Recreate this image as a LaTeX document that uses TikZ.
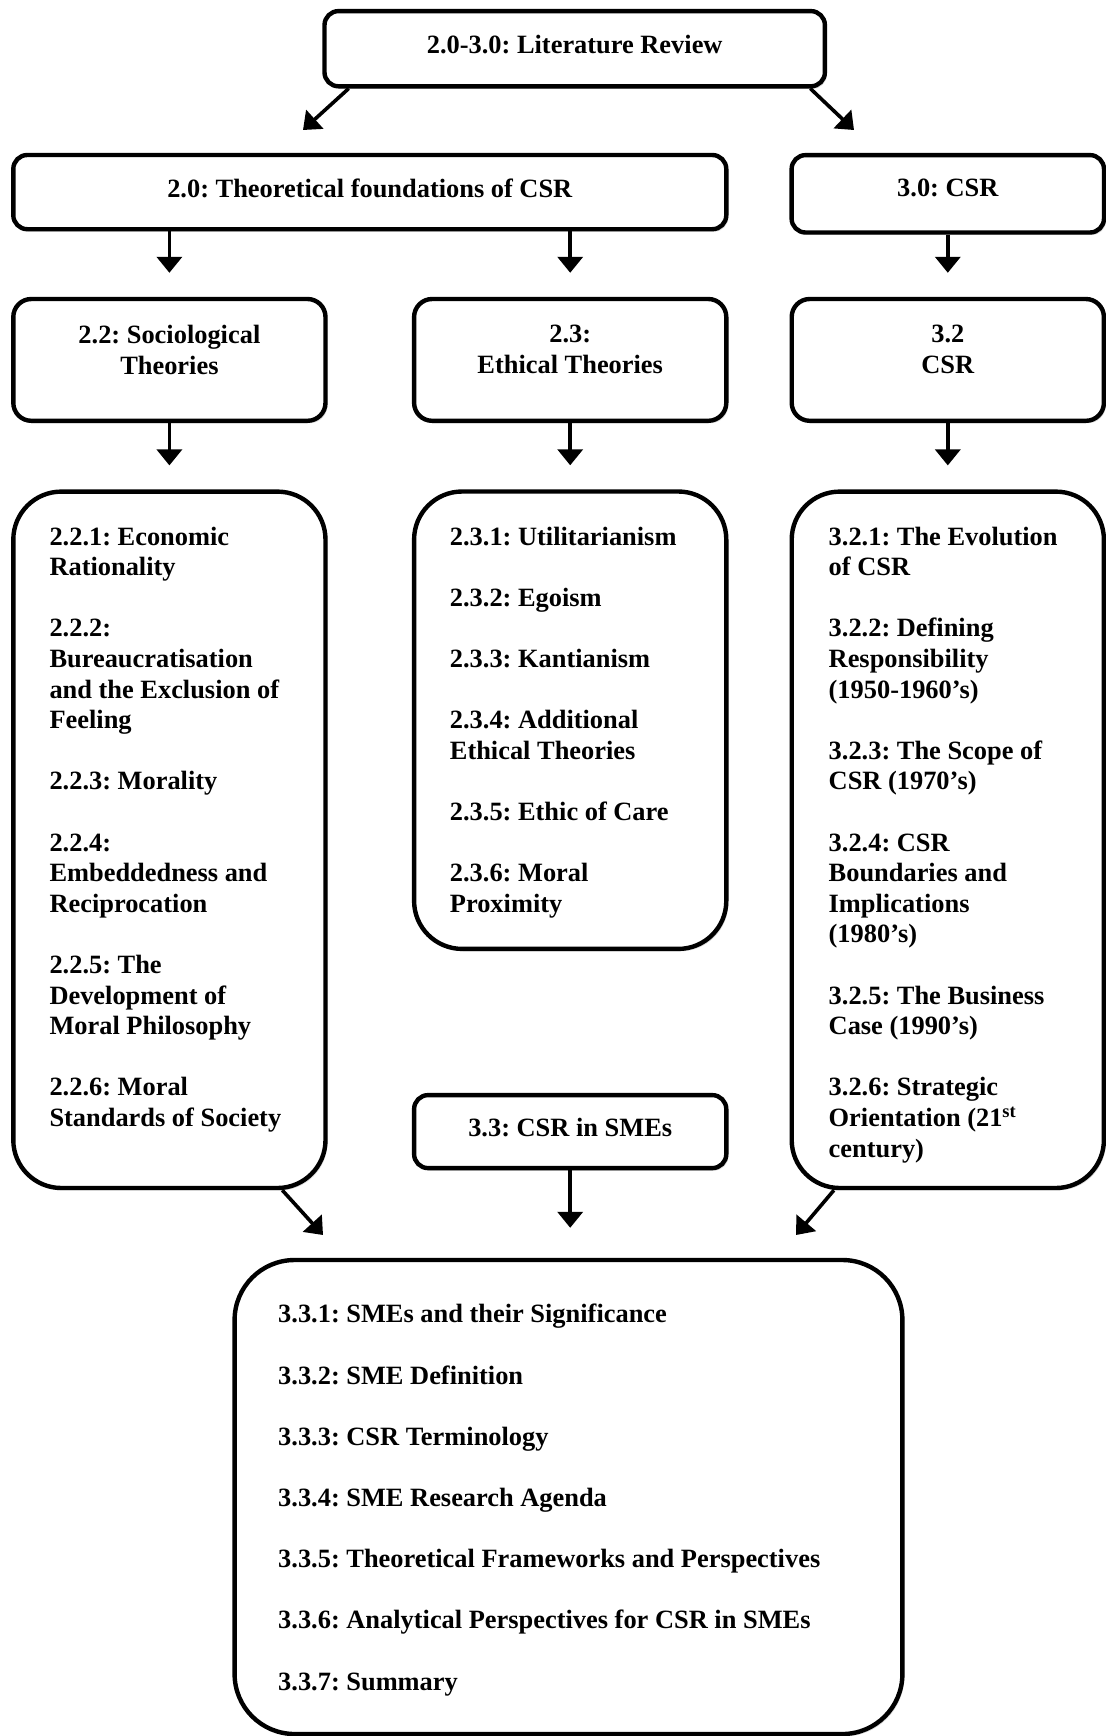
\documentclass[tikz,border=0pt]{standalone}
\usepackage{fontspec}
\setmainfont{Liberation Serif}
\usepackage{tikz}
\usetikzlibrary{arrows.meta, positioning, shadows}
\frenchspacing

\begin{document}
\begin{tikzpicture}[
    x=0.5pt, y=-0.5pt,
    box/.style={rectangle, draw, fill=white, line width=2.2pt, rounded corners=7pt, inner sep=0pt,
        drop shadow={shadow xshift=1pt, shadow yshift=-1.2pt, opacity=0.3}},
    headbox/.style={box, minimum width=156.1pt, minimum height=37pt},
    midbox/.style={box, rounded corners=9pt, minimum width=156.1pt, minimum height=60.9pt},
    listbox/.style={box, rounded corners=24pt, minimum width=156.1pt},
    txt/.style={inner sep=0pt, font=\fontsize{13.2}{15.3}\selectfont\bfseries},
    head/.style={txt, align=center},
    list/.style={txt, align=left},
    arrow/.style={-{Triangle[width=12.5pt, length=8pt]}, line width=1.8pt}
]
\useasboundingbox (0,0) rectangle (1105,1736);

% top level
\node[box, minimum width=250.2pt, minimum height=37.6pt] (litrev) at (574.7,48.7) {};
\node[head, below=13pt of litrev.north] (litrevtxt) {2.0-3.0: Literature Review};

\node[box, minimum width=356.5pt, minimum height=37.1pt] (theory) at (369.8,192.1) {};
\node[head, below=13pt of theory.north] (theorytxt) {2.0: Theoretical foundations of CSR};
\node[box, minimum width=156.2pt, minimum height=38.7pt] (csr) at (947.8,193.8) {};
\node[head, below=13pt of csr.north] (csrtxt) {3.0: CSR};

% second level
\node[midbox] (socio) at (169.4,359.9) {};
\node[head, below=14pt of socio.north] (sociotxt) {2.2: Sociological\\Theories};
\node[midbox] (ethic) at (570.2,359.9) {};
\node[head, below=14pt of ethic.north] (ethictxt) {2.3:\\Ethical Theories};
\node[midbox] (csrsub) at (947.8,359.9) {};
\node[head, below=14pt of csrsub.north] (csrsubtxt) {3.2\\CSR};

% lists
\node[listbox, minimum height=348.2pt] (sociolist) at (169.4,839.8) {};
\node[list, below right=18.5pt and 19pt of sociolist.north west] (sociolisttxt) {%
2.2.1: Economic\\Rationality\\[15.3pt]
2.2.2:\\Bureaucratisation\\and the Exclusion of\\Feeling\\[15.3pt]
2.2.3: Morality\\[15.3pt]
2.2.4:\\Embeddedness and\\Reciprocation\\[15.3pt]
2.2.5: The\\Development of\\Moral Philosophy\\[15.3pt]
2.2.6: Moral\\Standards of Society};

\node[listbox, minimum height=228.7pt] (ethiclist) at (570.2,720.2) {};
\node[list, below right=18.5pt and 18.8pt of ethiclist.north west] (ethiclisttxt) {%
2.3.1: Utilitarianism\\[15.3pt]
2.3.2: Egoism\\[15.3pt]
2.3.3: Kantianism\\[15.3pt]
2.3.4: Additional\\Ethical Theories\\[15.3pt]
2.3.5: Ethic of Care\\[15.3pt]
2.3.6: Moral\\Proximity};

\node[listbox, minimum height=348.2pt] (csrlist) at (947.8,839.8) {};
\node[list, below right=18.5pt and 19.4pt of csrlist.north west] (csrlisttxt) {%
3.2.1: The Evolution\\of CSR\\[15.3pt]
3.2.2: Defining\\Responsibility\\(1950-1960’s)\\[15.3pt]
3.2.3: The Scope of\\CSR (1970’s)\\[15.3pt]
3.2.4: CSR\\Boundaries and\\Implications\\(1980’s)\\[15.3pt]
3.2.5: The Business\\Case (1990’s)\\[15.3pt]
3.2.6: Strategic\\Orientation (21\textsuperscript{st}\\century)};

% SMEs
\node[headbox, minimum height=36.5pt] (sme) at (570.2,1131.6) {};
\node[head, below=12.5pt of sme.north] (smetxt) {3.3: CSR in SMEs};

\node[listbox, rounded corners=30pt, minimum width=333.9pt, minimum height=237pt] (smelist) at (568.5,1497) {};
\node[list, below right=23pt and 22.7pt of smelist.north west] (smelisttxt) {%
3.3.1: SMEs and their Significance\\[15.3pt]
3.3.2: SME Definition\\[15.3pt]
3.3.3: CSR Terminology\\[15.3pt]
3.3.4: SME Research Agenda\\[15.3pt]
3.3.5: Theoretical Frameworks and Perspectives\\[15.3pt]
3.3.6: Analytical Perspectives for CSR in SMEs\\[15.3pt]
3.3.7: Summary};

% free arrow ends
\coordinate (litrevleft) at (303,130);
\coordinate (litrevright) at (854,130);
\coordinate (smeleft) at (323,1235);
\coordinate (smeright) at (796,1235);

\draw[arrow] ([xshift=13.2pt]litrev.south west) -- (litrevleft);
\draw[arrow] ([xshift=-8.4pt]litrev.south east) -- (litrevright);
\draw[arrow, shorten >=12pt] (theory.south -| socio) -- (socio.north);
\draw[arrow, shorten >=12pt] (theory.south -| ethic) -- (ethic.north);
\draw[arrow, shorten >=12pt] (csr.south) -- (csrsub.north);
\draw[arrow, shorten >=12pt] (socio.south) -- (sociolist.north);
\draw[arrow, shorten >=12pt] (ethic.south) -- (ethiclist.north);
\draw[arrow, shorten >=12pt] (csrsub.south) -- (csrlist.north);
\draw[arrow, shorten >=15pt] (sme.south) -- (sme.south |- smelist.north);
\draw[arrow] ([xshift=-22.7pt]sociolist.south east) -- (smeleft);
\draw[arrow] ([xshift=22.2pt]csrlist.south west) -- (smeright);

\end{tikzpicture}
\end{document}
